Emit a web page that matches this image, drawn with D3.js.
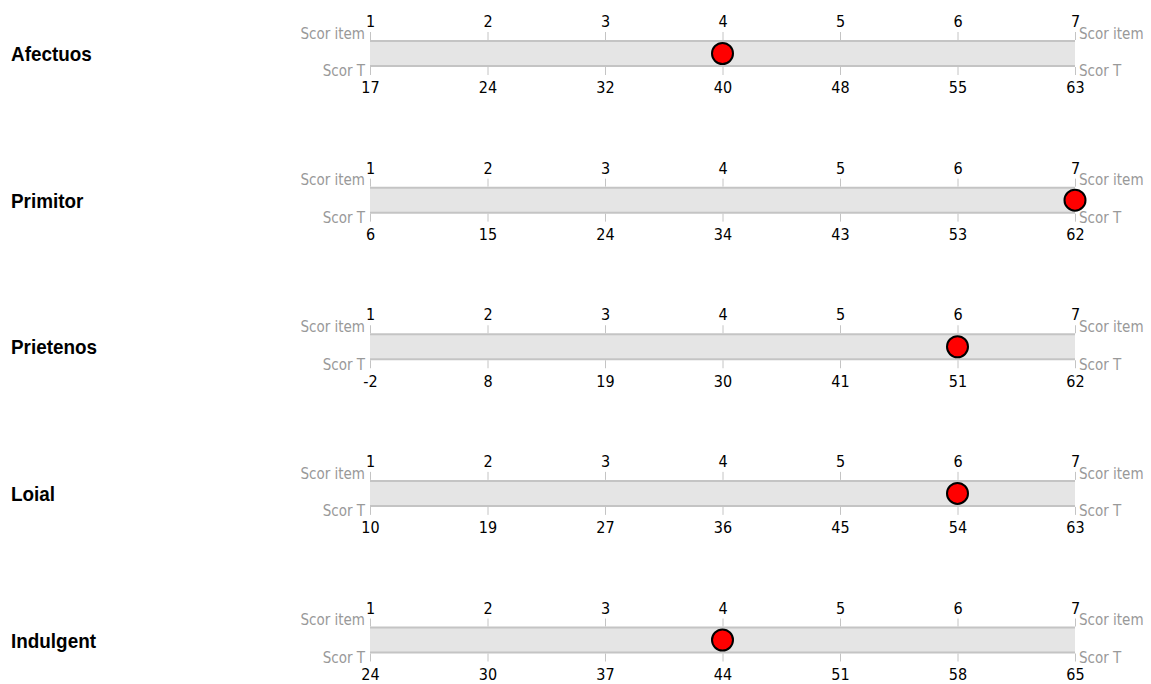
<!DOCTYPE html>
<html>
<head>
<meta charset="utf-8">
<script src="https://cdn.jsdelivr.net/npm/d3@7"></script>
<style>
  body { margin: 0; background: #fff; }
  svg { display: block; }
</style>
</head>
<body>
<script>
(function () {

    const width = 1151, height = 684;

    const scales = ['Afectuos', 'Primitor', 'Prietenos', 'Loial', 'Indulgent'];
    const itemTicks = [1, 2, 3, 4, 5, 6, 7];
    const tScores = [
        [17, 24, 32, 40, 48, 55, 63],
        [6, 15, 24, 34, 43, 53, 62],
        [-2, 8, 19, 30, 41, 51, 62],
        [10, 19, 27, 36, 45, 54, 63],
        [24, 30, 37, 44, 51, 58, 65]
    ];
    const itemScores = [4, 7, 6, 6, 4];

    const tickFont = '"DejaVu Sans Condensed", "DejaVu Sans", sans-serif';

    const svg = d3.select('body')
        .append('svg')
        .attr('width', width)
        .attr('height', height);

    const x = d3.scaleLinear()
        .domain([1, 7])
        .range([370, 1075]);

    const rowY = d3.scalePoint()
        .domain(scales)
        .range([53.5, 640]);

    const barH = 25;

    scales.forEach(function (name, i) {
        const cy = rowY(name);
        const top = cy - barH / 2, bottom = cy + barH / 2;
        const g = svg.append('g');

        g.append('text')
            .attr('transform', 'translate(11,' + cy + ') scale(0.9,1)')
            .attr('dy', '0.36em')
            .style('font-family', '"Liberation Sans", Arial, sans-serif')
            .style('font-weight', 'bold')
            .style('font-size', '21px')
            .text(name);

        g.append('rect')
            .attr('x', x(1))
            .attr('y', top)
            .attr('width', x(7) - x(1))
            .attr('height', barH)
            .attr('fill', '#e5e5e5');

        [top, bottom].forEach(function (yy) {
            g.append('line')
                .attr('x1', x(1)).attr('x2', x(7))
                .attr('y1', yy).attr('y2', yy)
                .attr('stroke', '#c4c4c4')
                .attr('stroke-width', 2);
        });

        const topAxis = d3.axisTop(x)
            .tickValues(itemTicks)
            .tickFormat(d3.format('d'))
            .tickSizeInner(8)
            .tickSizeOuter(0)
            .tickPadding(5);

        const tg = g.append('g')
            .attr('transform', 'translate(0,' + (top - 1) + ')')
            .call(topAxis);

        const tLabel = d3.scaleOrdinal().domain(itemTicks).range(tScores[i]);
        const bottomAxis = d3.axisBottom(x)
            .tickValues(itemTicks)
            .tickFormat(function (d) { return tLabel(d); })
            .tickSizeInner(8)
            .tickSizeOuter(0)
            .tickPadding(7);

        const bg = g.append('g')
            .attr('transform', 'translate(0,' + (bottom + 1) + ')')
            .call(bottomAxis);

        [tg, bg].forEach(function (ax) {
            ax.select('.domain').remove();
            ax.selectAll('.tick line').attr('stroke', '#c4c4c4');
            ax.selectAll('.tick text')
                .attr('fill', '#000')
                .style('font-family', tickFont)
                .style('font-size', '16px');
        });

        const side = [
            {t: 'Scor item', y: top - 7.5},
            {t: 'Scor T', y: bottom + 5}
        ];
        side.forEach(function (s) {
            g.append('text')
                .attr('x', x(1) - 5)
                .attr('y', s.y)
                .attr('dy', '0.35em')
                .attr('text-anchor', 'end')
                .attr('fill', '#999')
                .style('font-family', tickFont)
                .style('font-size', '15px')
                .text(s.t);
            g.append('text')
                .attr('x', x(7) + 4)
                .attr('y', s.y)
                .attr('dy', '0.35em')
                .attr('fill', '#999')
                .style('font-family', tickFont)
                .style('font-size', '15px')
                .text(s.t);
        });

        g.append('circle')
            .attr('cx', x(itemScores[i]))
            .attr('cy', cy)
            .attr('r', 10.5)
            .attr('fill', '#ff0000')
            .attr('stroke', '#000')
            .attr('stroke-width', 2);
    });

})();
</script>
</body>
</html>
